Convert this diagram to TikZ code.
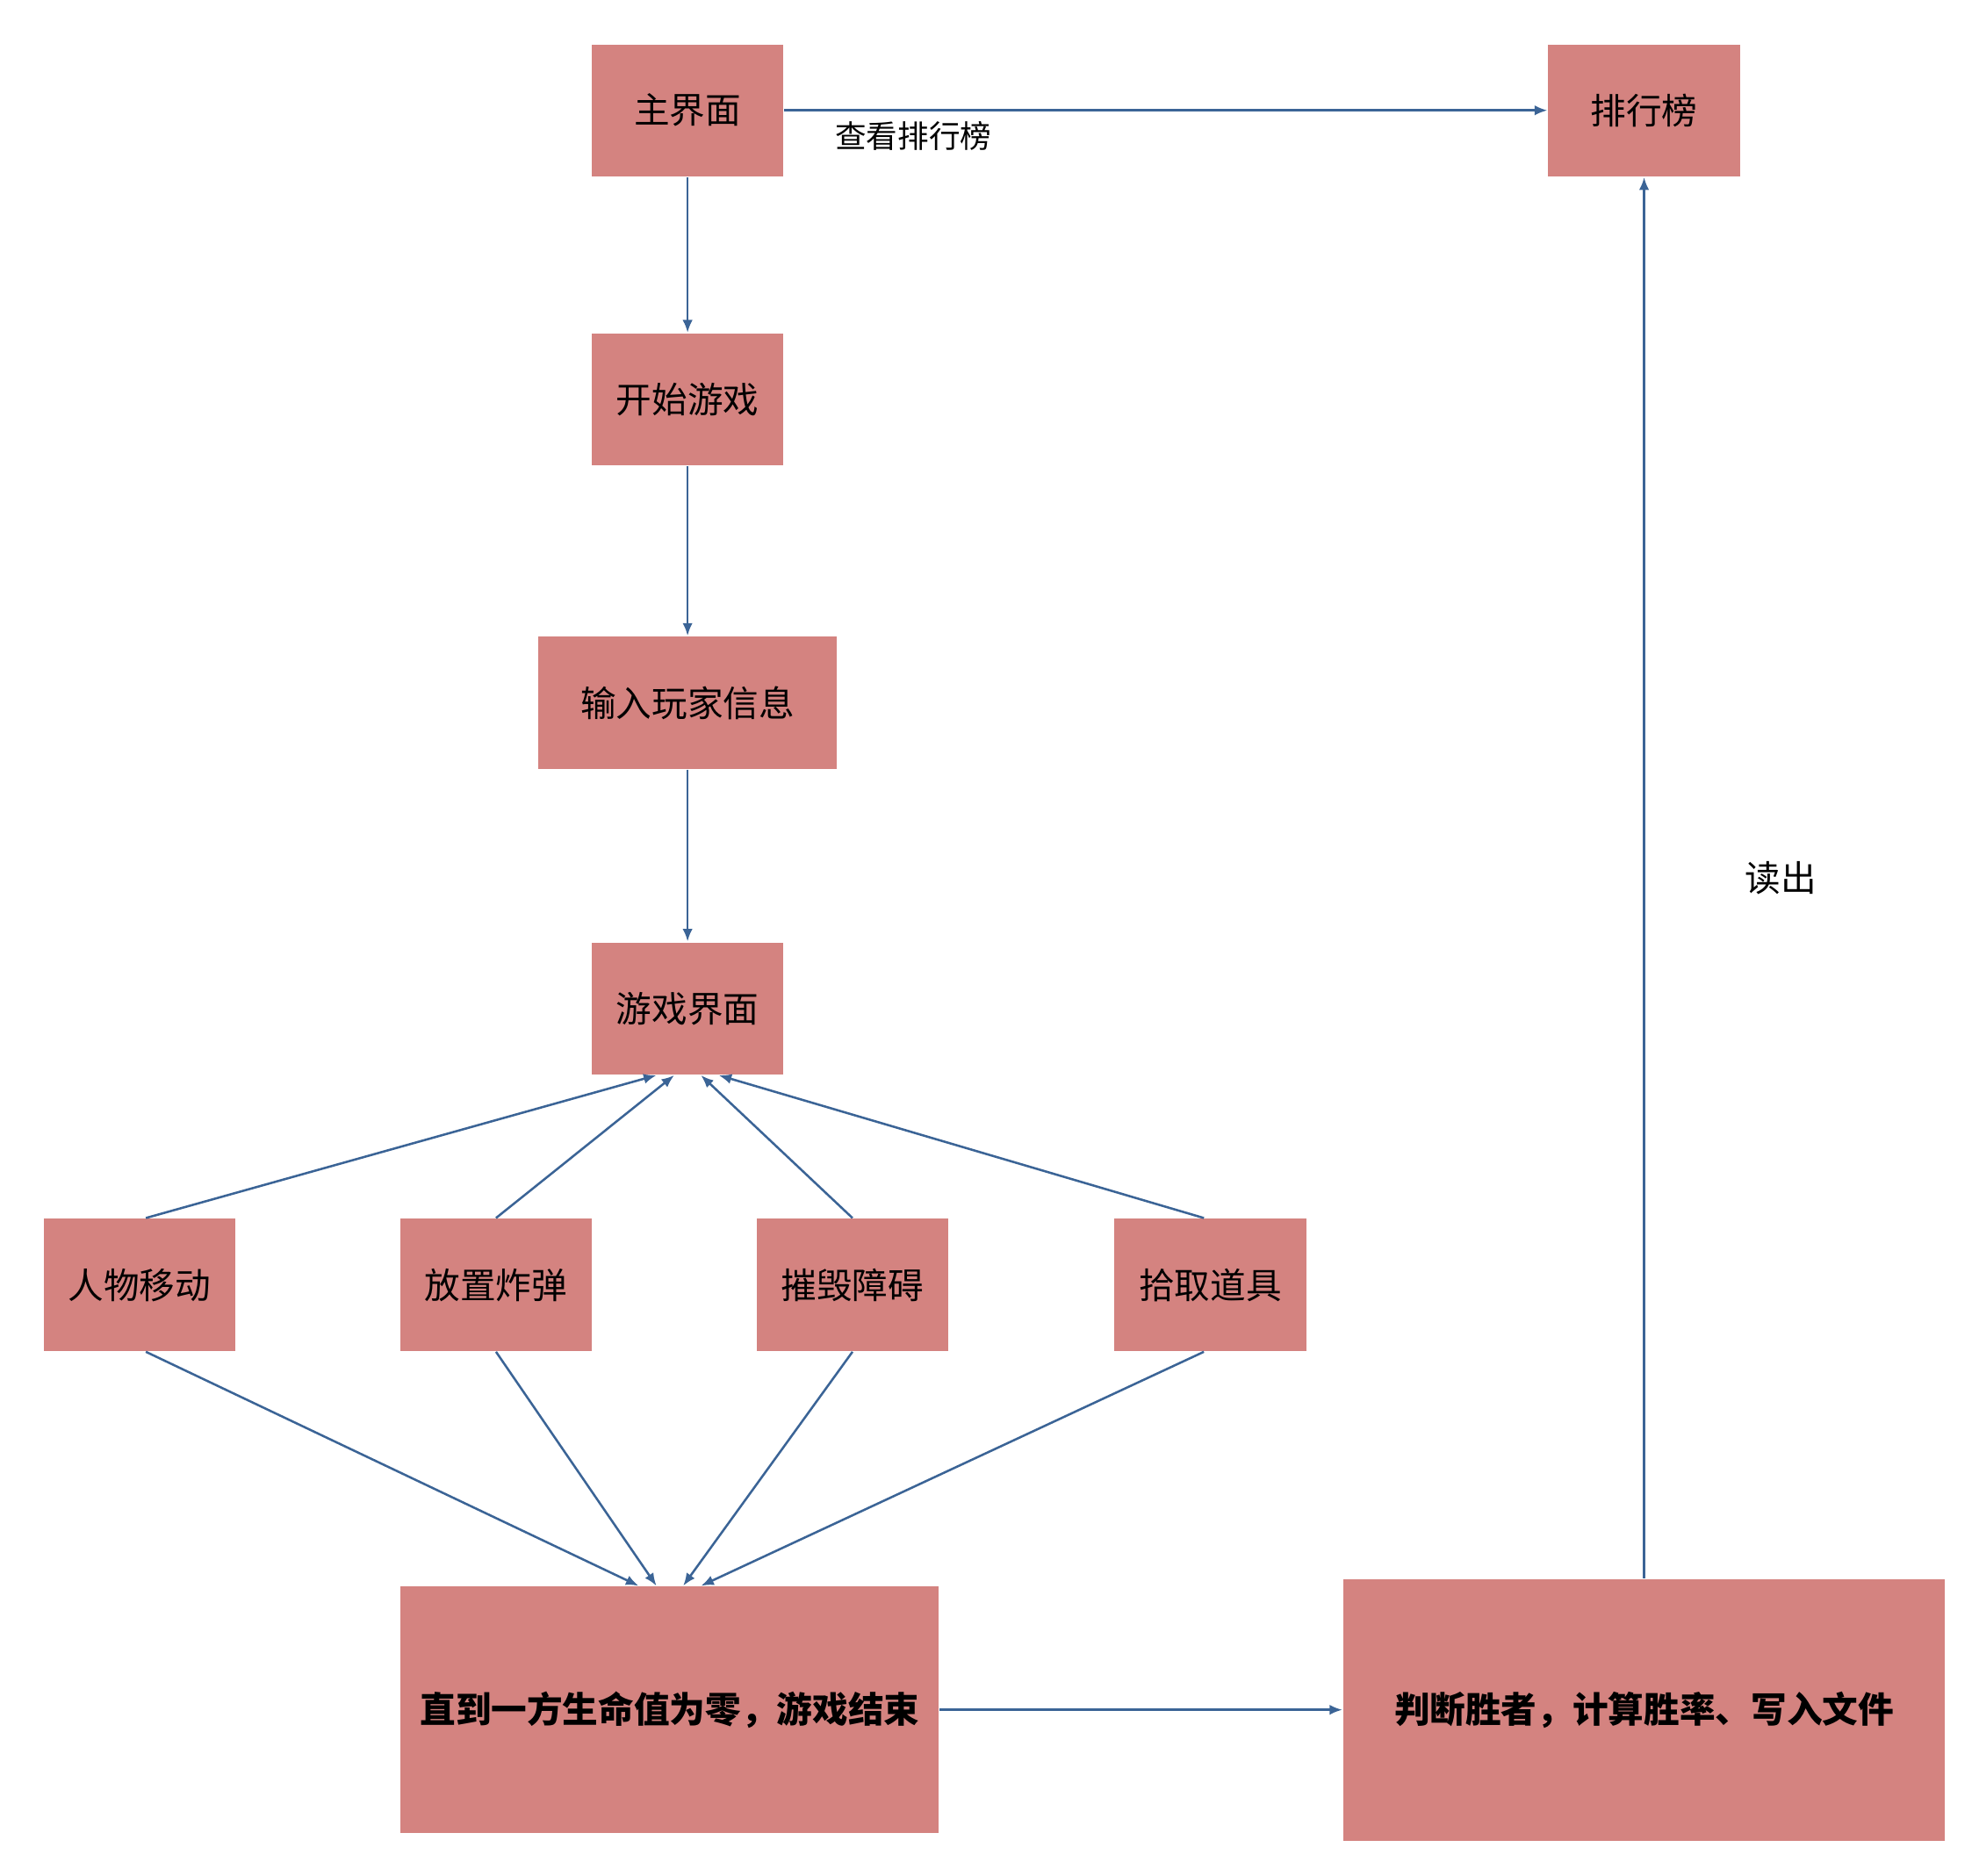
\documentclass[tikz,border=0pt]{standalone}
\usepackage{fontspec}
\setmainfont{Noto Sans CJK SC}
\usepackage{tikz}
\usetikzlibrary{positioning}
\usetikzlibrary{arrows.meta}
\definecolor{boxred}{RGB}{212,131,128}
\definecolor{lineblue}{RGB}{59,100,150}
\tikzset{
  box/.style={fill=boxred,minimum width=1.51cm,minimum height=1.04cm,inner sep=0pt,font=\fontsize{8pt}{9pt}\selectfont},
  bigbox/.style={box,font=\fontsize{8pt}{9pt}\selectfont\bfseries},
  flow/.style={draw=lineblue,line width=0.5pt,-{Latex[length=1mm,width=0.8mm]}},
  lbl/.style={font=\fontsize{7pt}{8pt}\selectfont}
}
\begin{document}
\begin{tikzpicture}[x=0.01cm,y=-0.01cm]
            \useasboundingbox (0,0) rectangle (1560,1479);
            \node (main) [box] at (542,87)   {主界面};
            \node (rank) [box] at (1296,87)  {排行榜};
            \node (start) [box] at (542,315) {开始游戏};
            \node (input) [box,minimum width=2.35cm] at (542,554) {输入玩家信息};
            \node (game) [box] at (542,795)  {游戏界面};
            \node (move) [box] at (110,1013) {人物移动};
            \node (bomb) [box] at (391,1013) {放置炸弹};
            \node (wall) [box] at (672,1013) {摧毁障碍};
            \node (item) [box] at (954,1013) {拾取道具};
            \node (over) [bigbox,minimum width=4.24cm,minimum height=1.94cm] at (528,1348) {直到一方生命值为零，游戏结束};
            \node (judge) [bigbox,minimum width=4.74cm,minimum height=2.06cm] at (1296,1348) {判断胜者，计算胜率、写入文件};

            \draw[flow] (main) -- (rank);
            \node (lookrank) [lbl] at (720,107) {查看排行榜};
            \draw[flow] (main) -- (start);
            \draw[flow] (start) -- (input);
            \draw[flow] (input) -- (game);
            \draw[flow] (move.north) ++(5,0) -- ([xshift=-7]game.south);
            \draw[flow] (bomb.north) -- ([xshift=-3]game.south);
            \draw[flow] (wall.north) -- ([xshift=3]game.south);
            \draw[flow] (item.north) ++(-5,0) -- ([xshift=7]game.south);
            \draw[flow] (move.south) ++(5,0) -- ([xshift=-7]over.north);
            \draw[flow] (bomb.south) -- ([xshift=-3]over.north);
            \draw[flow] (wall.south) -- ([xshift=3]over.north);
            \draw[flow] (item.south) ++(-5,0) -- ([xshift=7]over.north);
            \draw[flow] (over) -- (judge);
            \draw[flow] (judge) -- (rank);
            \node (readout) [font=\fontsize{8pt}{9pt}\selectfont] at (1404,692) {读出};
\end{tikzpicture}
\end{document}
